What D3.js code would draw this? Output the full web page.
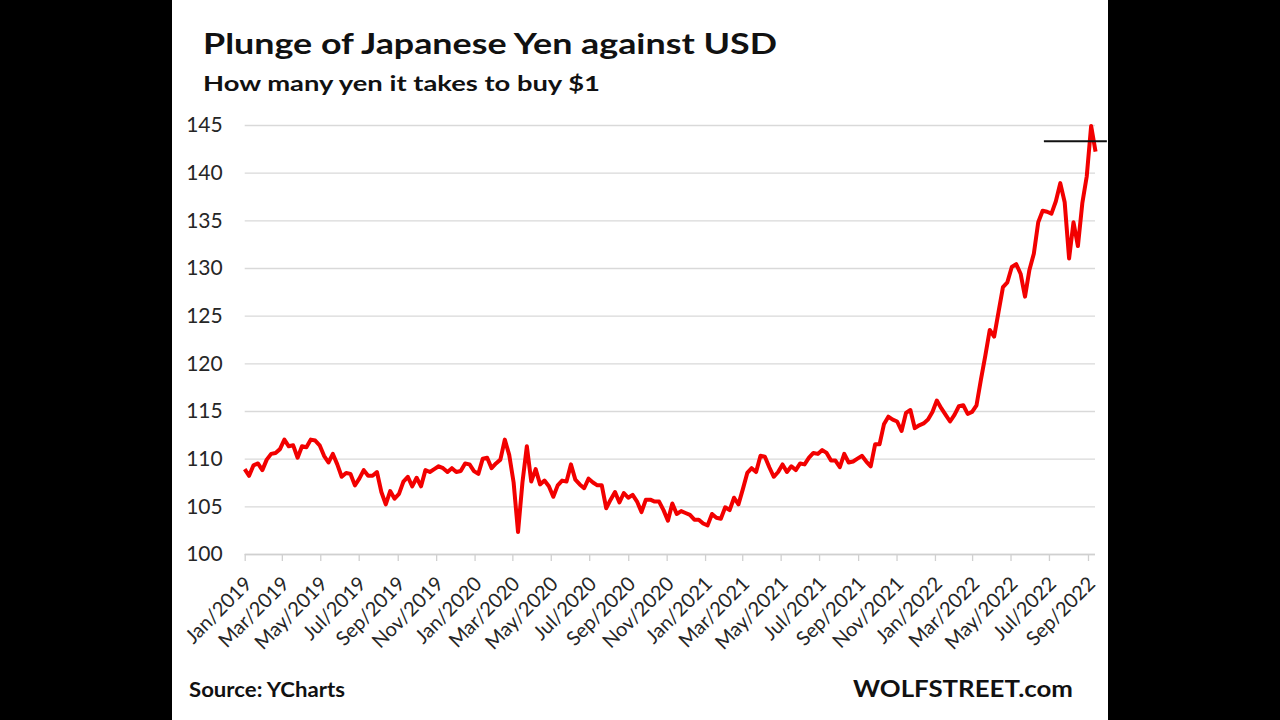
<!DOCTYPE html>
<html>
<head>
<meta charset="utf-8">
<script src="https://cdn.jsdelivr.net/npm/d3@7"></script>
<style>
  html, body { margin: 0; padding: 0; background: #000; }
  svg { display: block; }
</style>
</head>
<body>
<svg id="chart" width="1280" height="720"></svg>
<script>
const title = "Plunge of Japanese Yen against USD";
const subtitle = "How many yen it takes to buy $1";
const source = "Source: YCharts";
const brand = "WOLFSTREET.com";

// weekly USD/JPY readings, one per week starting Tue 1 Jan 2019
const firstWeek = "2019-01-01";
const yen2019 = [108.9,108.2,109.3,109.5,108.8,109.9,110.5,110.6,111.0,112.0,
  111.3,111.4,110.1,111.3,111.2,112.0,111.9,111.4,110.3,109.6,
  110.5,109.4,108.1,108.5,108.4,107.2,107.9,108.8,108.2,108.2,
  108.6,106.5,105.2,106.6,105.8,106.3,107.6,108.1,107.1,108.0,
  107.1,108.8,108.6,108.9,109.2,109.0,108.6,109.0,108.6,108.7,
  109.5,109.4,108.7];
const yen2020 = [108.4,110.0,110.1,109.0,109.5,109.9,112.0,110.4,107.5,102.3,
  107.5,111.3,107.6,108.9,107.3,107.7,107.1,106.0,107.2,107.7,
  107.6,109.4,107.8,107.3,106.9,107.9,107.5,107.2,107.2,104.8,
  105.7,106.5,105.4,106.4,105.9,106.2,105.5,104.4,105.7,105.7,
  105.5,105.5,104.6,103.5,105.3,104.2,104.5,104.3,104.1,103.6,
  103.6,103.2];
const yen2021 = [103.0,104.2,103.8,103.7,104.9,104.6,105.9,105.2,106.8,108.5,
  109.0,108.6,110.3,110.2,109.1,108.1,108.6,109.4,108.6,109.2,
  108.8,109.5,109.4,110.1,110.6,110.5,110.9,110.6,109.8,109.8,
  109.1,110.5,109.6,109.7,110.0,110.3,109.7,109.2,111.5,111.5,
  113.6,114.4,114.1,113.9,112.9,114.8,115.1,113.2,113.5,113.7,
  114.1,114.9];
const yen2022 = [116.1,115.3,114.6,113.9,114.6,115.5,115.6,114.7,114.9,115.6,
  118.3,120.8,123.5,122.8,125.4,128.0,128.5,130.1,130.4,129.4,
  127.0,129.8,131.5,134.8,136.0,135.9,135.7,137.0,138.9,136.9,
  131.0,134.8,132.3,136.8,139.6,144.9,142.2];

const yTicks = [100, 105, 110, 115, 120, 125, 130, 135, 140, 145];
const xDomain = ["2019-01-01", "2022-09-15"];
const markerLevel = 143.3;
const markerSpan = ["2022-06-23", "2022-10-01"];

const parse = d3.timeParse("%Y-%m-%d");
const start = parse(firstWeek);
const values = [].concat(yen2019, yen2020, yen2021, yen2022);
const series = values.map((v, i) => ({ date: d3.timeDay.offset(start, 7 * i), value: v }));

const svg = d3.select("#chart");
const font = "Lato, 'Open Sans', sans-serif";

// white card between the black side bars
svg.append("rect")
  .attr("x", 172).attr("y", 0)
  .attr("width", 936).attr("height", 720)
  .attr("fill", "#fff");

const plotLeft = 244.7, plotRight = 1095;
const x = d3.scaleTime()
  .domain(xDomain.map(parse))
  .range([244.7, 1096.8]);
const y = d3.scaleLinear()
  .domain([100, 145])
  .range([554, 125]);

// y axis with gridlines
const yAxis = svg.append("g")
  .attr("transform", `translate(${plotLeft},0)`)
  .call(d3.axisLeft(y).tickValues(yTicks).tickSize(-(plotRight - plotLeft)).tickPadding(22));
yAxis.select(".domain").remove();
yAxis.selectAll("line").attr("stroke", "#d9d9d9").attr("stroke-width", 1.3);
yAxis.selectAll("text")
  .attr("fill", "#262626")
  .style("font-family", font)
  .style("font-size", "21px");

// x axis
const xAxis = svg.append("g")
  .attr("transform", `translate(0,${y(100)})`)
  .call(d3.axisBottom(x)
    .ticks(d3.timeMonth.every(2))
    .tickSize(7)
    .tickFormat(d3.timeFormat("%b/%Y")));
xAxis.select(".domain")
  .attr("d", `M${plotLeft},0.5H${plotRight}`)
  .attr("stroke", "#d0d0d0").attr("stroke-width", 1.3);
xAxis.selectAll("line").attr("stroke", "#d0d0d0").attr("stroke-width", 1.3);
xAxis.selectAll("text")
  .attr("x", 0).attr("y", 0).attr("dy", 0)
  .attr("transform", "translate(8,31) rotate(-45)")
  .style("text-anchor", "end")
  .attr("fill", "#262626")
  .style("font-family", font)
  .style("font-size", "20px");

// the yen line
svg.append("path")
  .datum(series)
  .attr("fill", "none")
  .attr("stroke", "#f20000")
  .attr("stroke-width", 4)
  .attr("stroke-linejoin", "round")
  .attr("d", d3.line().x(d => x(d.date)).y(d => y(d.value)));

// black marker line near the top
svg.append("line")
  .attr("x1", x(parse(markerSpan[0])))
  .attr("x2", x(parse(markerSpan[1])))
  .attr("y1", y(markerLevel))
  .attr("y2", y(markerLevel))
  .attr("stroke", "#111")
  .attr("stroke-width", 2);

// titles
svg.append("text")
  .attr("x", 203).attr("y", 54)
  .attr("textLength", 574).attr("lengthAdjust", "spacingAndGlyphs")
  .style("font-family", font).style("font-weight", 700).style("font-size", "29px")
  .attr("fill", "#111")
  .text(title);

svg.append("text")
  .attr("x", 203).attr("y", 91)
  .attr("textLength", 397).attr("lengthAdjust", "spacingAndGlyphs")
  .style("font-family", font).style("font-weight", 700).style("font-size", "21px")
  .attr("fill", "#111")
  .text(subtitle);

svg.append("text")
  .attr("x", 189).attr("y", 697)
  .attr("textLength", 156).attr("lengthAdjust", "spacingAndGlyphs")
  .style("font-family", font).style("font-weight", 700).style("font-size", "20px")
  .attr("fill", "#111")
  .text(source);

svg.append("text")
  .attr("x", 853).attr("y", 697)
  .attr("textLength", 220).attr("lengthAdjust", "spacingAndGlyphs")
  .style("font-family", font).style("font-weight", 700).style("font-size", "23px")
  .attr("fill", "#111")
  .text(brand);
</script>
</body>
</html>
